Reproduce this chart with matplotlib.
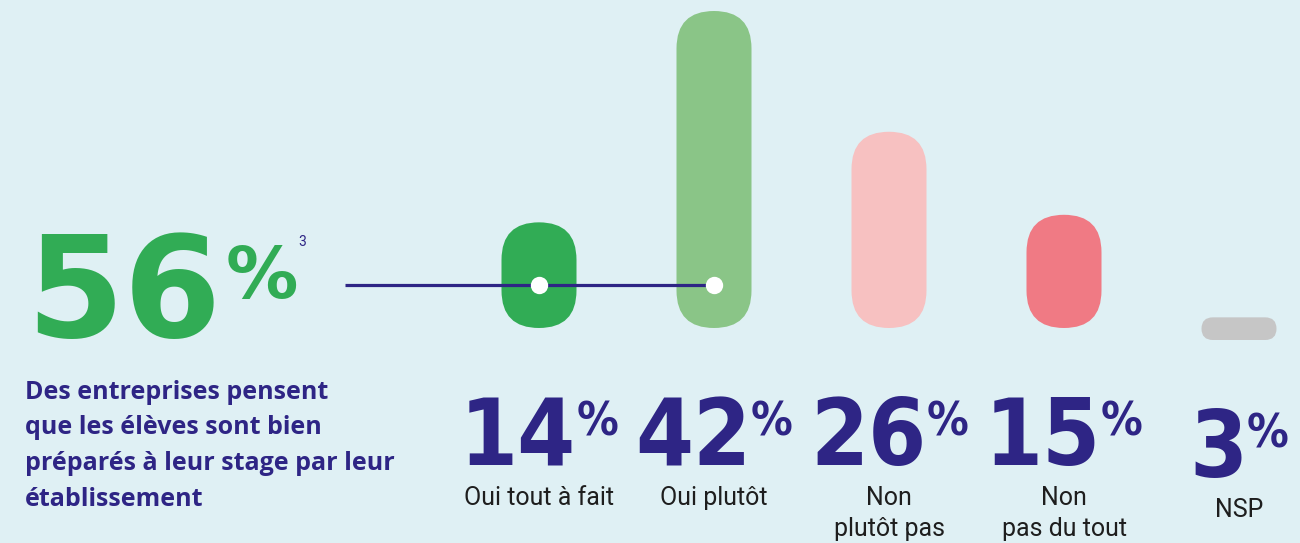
import matplotlib
matplotlib.use('Agg')
import matplotlib.pyplot as plt
import matplotlib.transforms as mtransforms
from matplotlib.patches import FancyBboxPatch
from matplotlib import font_manager as fm

# ---------------- data ----------------
categories = [["Oui tout à fait"], ["Oui plutôt"], ["Non", "plutôt pas"],
              ["Non", "pas du tout"], ["NSP"]]
values = [14, 42, 26, 15, 3]
value_labels = ["14", "42", "26", "15", "3"]
headline_value = "56"
headline_note = "3"
headline_text = ["Des entreprises pensent", "que les élèves sont bien",
                 "préparés à leur stage par leur", "établissement"]
linked_bars = [0, 1]

# ---------------- style ----------------
W, H = 1300, 543
BG = '#dff0f4'
NAVY = '#2e2585'
GREEN = '#31ac55'
bar_colors = ['#31ac55', '#8ac587', '#f7c1c1', '#f07a84', '#c6c6c6']
col_shift = [0, 0, 0, 0, 12]   # px, last column sits a bit lower

ttf = fm.fontManager.ttflist
fnames = {f.name for f in ttf}


def wnum(w):
    if isinstance(w, (int, float)):
        return w
    return fm.weight_dict.get(w, 400)


order = {'ultra-condensed': 0, 'extra-condensed': 1, 'condensed': 2,
         'semi-condensed': 3}
cands = [f for f in ttf if f.stretch in order and f.style == 'normal'
         and wnum(f.weight) >= 500]
if cands:
    best = min(cands, key=lambda f: (order[f.stretch], abs(wnum(f.weight) - 700)))
    NUM_PROPS = dict(fontproperties=fm.FontProperties(fname=best.fname))
elif 'Liberation Sans' in fnames:
    NUM_PROPS = dict(family='Liberation Sans', weight='bold')
else:
    NUM_PROPS = dict(family='DejaVu Sans', weight='bold')
LBL_FONT = 'Roboto' if 'Roboto' in fnames else 'DejaVu Sans'
PAR_FONT = 'Open Sans' if 'Open Sans' in fnames else LBL_FONT

fig = plt.figure(figsize=(W / 100, H / 100), dpi=100, facecolor=BG)
ax = fig.add_axes([0, 0, 1, 1])
ax.set_facecolor(BG)
ax.axis('off')

PX_X = 175.0          # px per category step
PX_Y = 317.0 / 42.0   # px per percent
X0_PX = 539.0         # px of first category center
BASE_PX = 215.0       # px from bottom of bar baseline
ax.set_xlim(-X0_PX / PX_X, (W - X0_PX) / PX_X)
ax.set_ylim(-BASE_PX / PX_Y, (H - BASE_PX) / PX_Y)

# pixel coords measured from top-left
pxT = mtransforms.Affine2D().scale(1 / W, -1 / H).translate(0, 1) + fig.transFigure
bT = mtransforms.blended_transform_factory(ax.transData, pxT)

# ---------------- bars (pills) ----------------
bar_w_px = 75.0
w = bar_w_px / PX_X
for i, v in enumerate(values):
    h_px = v * PX_Y
    r = min(bar_w_px, h_px) / 2 / PX_X
    y0 = -col_shift[i] / PX_Y
    p = FancyBboxPatch((i - w / 2, y0), w, v,
                       boxstyle=f"round,pad=0,rounding_size={r}",
                       mutation_aspect=PX_X / PX_Y,
                       fc=bar_colors[i], ec='none', zorder=2)
    ax.add_patch(p)

# connector line + dots
line_start = ax.transData.inverted().transform((345, 0))[0]
ax.plot([line_start, linked_bars[-1]], [285, 285], transform=bT, color=NAVY,
        lw=2.3, solid_capstyle='butt', zorder=3)
ax.plot(linked_bars, [285] * len(linked_bars), 'o', transform=bT, ms=12.5,
        mfc='white', mec='none', zorder=4)

# ---------------- headline ----------------
t56 = fig.text(26, 337, headline_value, transform=pxT, fontsize=101,
               weight='bold', family='DejaVu Sans', color=GREEN,
               ha='left', va='baseline')
tpc = fig.text(228, 298, '%', transform=pxT, fontsize=52, weight='bold',
               family='DejaVu Sans', color=GREEN, ha='left', va='baseline')
tnote = fig.text(297, 246, headline_note, transform=pxT, fontsize=10,
                 family=LBL_FONT, color=NAVY, ha='left', va='baseline')

for k, line in enumerate(headline_text):
    fig.text(25, 399 + k * 35.5, line, transform=pxT, fontsize=18,
             weight='bold', family=PAR_FONT, color=NAVY,
             ha='left', va='baseline')

# ---------------- value labels + categories ----------------
NUM_SIZE = 96
PCT_RATIO = 0.5
num_texts = []
for i, s in enumerate(value_labels):
    tn = fig.text(0, 465 + col_shift[i], s, transform=pxT, fontsize=NUM_SIZE,
                  color=NAVY, ha='left', va='baseline', **NUM_PROPS)
    tp = fig.text(0, 0, '%', transform=pxT, fontsize=NUM_SIZE * PCT_RATIO,
                  color=NAVY, ha='left', va='baseline', **NUM_PROPS)
    num_texts.append((tn, tp))
    cx = ax.transData.transform((i, 0))[0]
    for k, line in enumerate(categories[i]):
        fig.text(cx, 505 + col_shift[i] + k * 31, line, transform=pxT,
                 fontsize=18, family=LBL_FONT, color='#1e1e1e',
                 ha='center', va='baseline')

fig.canvas.draw()
rend = fig.canvas.get_renderer()

# place % right after "56"
e56 = t56.get_window_extent(rend)
tpc.set_x(e56.x1 + 4)
epc = tpc.get_window_extent(rend)
tnote.set_x(epc.x1 + 1)

# shrink number labels so each group fits its column
widest = 0
for tn, tp in num_texts:
    widest = max(widest, tn.get_window_extent(rend).width + tp.get_window_extent(rend).width)
scale = min(1.0, 158.0 / widest)
size = NUM_SIZE * scale
for tn, tp in num_texts:
    tn.set_fontsize(size)
    tp.set_fontsize(size * PCT_RATIO)
fig.canvas.draw()

for i, (tn, tp) in enumerate(num_texts):
    cx = ax.transData.transform((i, 0))[0]
    wn = tn.get_window_extent(rend).width
    wp = tp.get_window_extent(rend).width
    gap = 0
    left = cx - (wn + gap + wp) / 2
    tn.set_x(left)
    tp.set_x(left + wn + gap)
    em = size * 100 / 72
    cap_n = 0.72 * em
    cap_p = 0.72 * em * PCT_RATIO
    tp.set_y(465 + col_shift[i] - cap_n + cap_p + 4)

fig.savefig('out.png', dpi=100, facecolor=BG)
